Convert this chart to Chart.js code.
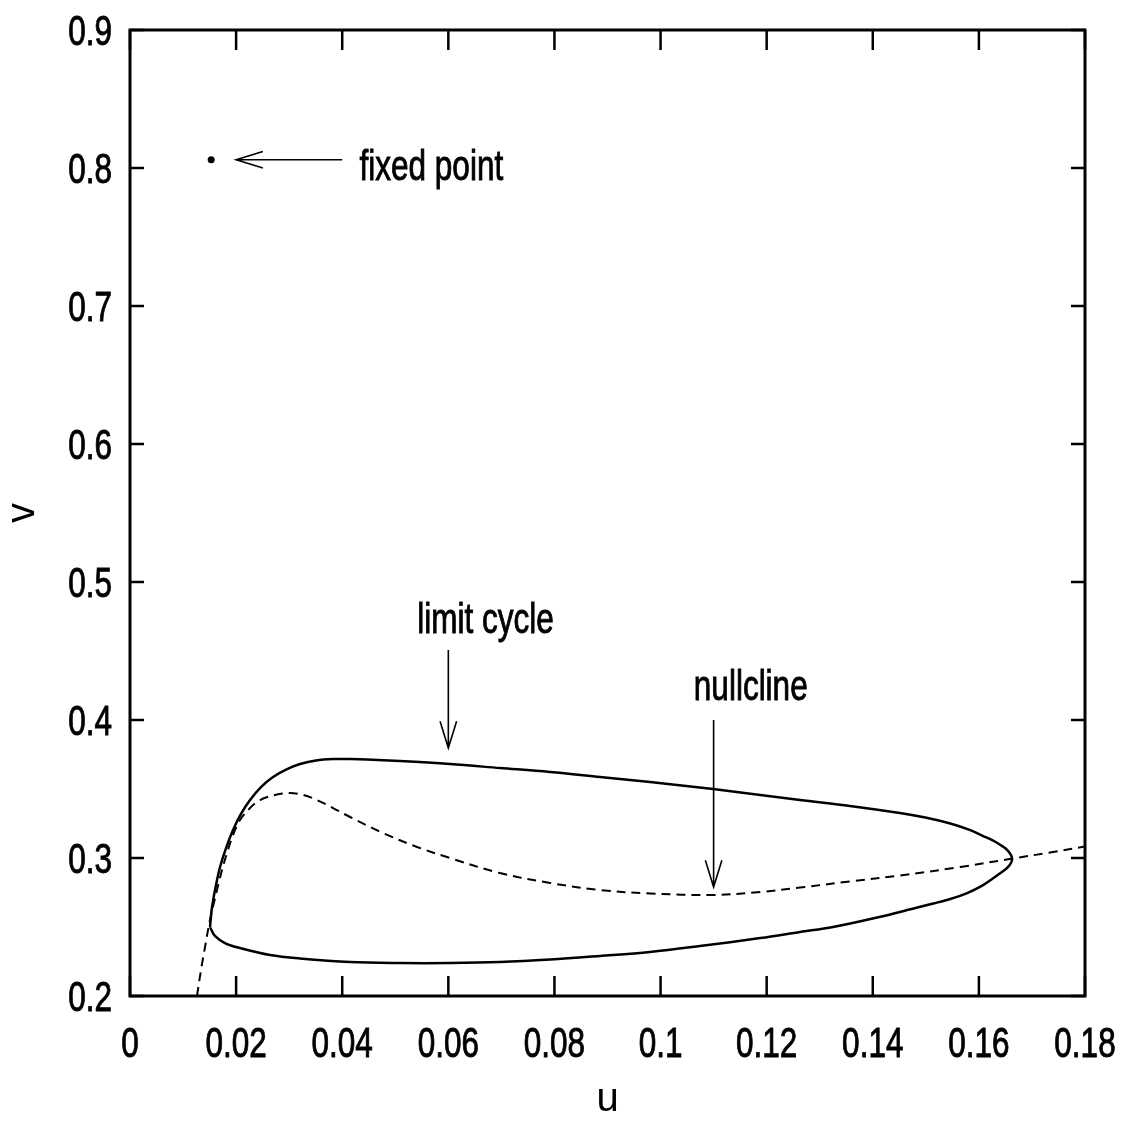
<!DOCTYPE html>
<html>
<head>
<meta charset="utf-8">
<script src="https://cdn.jsdelivr.net/npm/chart.js@4.4.0/dist/chart.umd.min.js"></script>
<style>
  html, body { margin: 0; padding: 0; background: #fff; }
  #wrap { width: 1129px; height: 1126px; position: relative; }
</style>
</head>
<body>
<div id="wrap"><canvas id="phase"></canvas></div>
<script>
// limit cycle, once round, starting and ending at the corner on the left
const cycleU = [0.01508, 0.01546, 0.01621, 0.01697, 0.01810, 0.01942, 0.02092, 0.02262, 0.02469, 0.02696,
  0.02941, 0.03205, 0.03506, 0.03827, 0.04147, 0.04467, 0.05090, 0.06032, 0.06975, 0.07917,
  0.08860, 0.09802, 0.1099, 0.1188, 0.1263, 0.1357, 0.1451, 0.1499, 0.1546, 0.1580,
  0.1608, 0.1626, 0.1640, 0.1651, 0.1658, 0.1662, 0.1662, 0.1658, 0.1651, 0.1640,
  0.1625, 0.1608, 0.1578, 0.1546, 0.1514, 0.1484, 0.1404, 0.1325, 0.1263, 0.1188,
  0.1074, 0.0980, 0.0886, 0.0792, 0.0697, 0.0603, 0.0509, 0.0415, 0.0320, 0.0264,
  0.0207, 0.0179, 0.0160, 0.01508];
const cycleV = [0.2500, 0.2645, 0.2804, 0.2935, 0.3072, 0.3203, 0.3319, 0.3420, 0.3514, 0.3587,
  0.3641, 0.3681, 0.3707, 0.3717, 0.3717, 0.3714, 0.3703, 0.3681, 0.3652, 0.3623,
  0.3587, 0.3551, 0.3500, 0.3457, 0.3420, 0.3377, 0.3326, 0.3293, 0.3250, 0.3207,
  0.3159, 0.3127, 0.3096, 0.3067, 0.3036, 0.3007, 0.2978, 0.2949, 0.2920, 0.2889,
  0.2848, 0.2804, 0.2746, 0.2703, 0.2670, 0.2641, 0.2565, 0.2500, 0.2464, 0.2420,
  0.2362, 0.2319, 0.2290, 0.2264, 0.2246, 0.2239, 0.2239, 0.2246, 0.2272, 0.2297,
  0.2348, 0.2384, 0.2435, 0.2500];

// nullcline (dashed)
const nullU = [0.01263, 0.01338, 0.01414, 0.01508, 0.0164, 0.01734, 0.01828, 0.01942, 0.02074, 0.02262,
  0.0245, 0.02733, 0.03016, 0.03261, 0.03525, 0.03827, 0.04147, 0.04769, 0.0541, 0.0603,
  0.0697, 0.0792, 0.0886, 0.0980, 0.1099, 0.1188, 0.1263, 0.1357, 0.1451, 0.1565,
  0.1663, 0.1734, 0.1800];
const nullV = [0.2000, 0.2188, 0.2355, 0.2551, 0.2768, 0.2913, 0.3036, 0.3167, 0.3275, 0.3362,
  0.3420, 0.3457, 0.3471, 0.3457, 0.3420, 0.3362, 0.3297, 0.3181, 0.3080, 0.3000,
  0.2891, 0.2819, 0.2768, 0.2743, 0.2732, 0.2754, 0.2786, 0.2830, 0.2873, 0.2935,
  0.2996, 0.3040, 0.3083];

const fixedU = [0.0153];
const fixedV = [0.806];

const xTickLabels = ['0', '0.02', '0.04', '0.06', '0.08', '0.1', '0.12', '0.14', '0.16', '0.18'];
const yTickLabels = ['0.2', '0.3', '0.4', '0.5', '0.6', '0.7', '0.8', '0.9'];

// labels in the plot (centre u, baseline v) and the arrows pointing from them
const noteText = ['fixed point', 'limit cycle', 'nullcline'];
const noteU = [0.0568, 0.0670, 0.1170];
const noteV = [0.7913, 0.4630, 0.4145];
const arrowFromU = [0.040, 0.060, 0.110];
const arrowFromV = [0.806, 0.4507, 0.400];
const arrowToU = [0.020, 0.060, 0.110];
const arrowToV = [0.806, 0.3797, 0.279];

const FONT = '"Liberation Sans", Arial, sans-serif';
const TEXT_PX = 42;
const SQUEEZE = 0.75; // narrow lettering

function toPoints(us, vs) {
  return us.map(function (u, i) { return { x: u, y: vs[i] }; });
}

function narrowText(ctx, text, x, y, align) {
  ctx.save();
  ctx.translate(x, y);
  ctx.scale(SQUEEZE, 1);
  ctx.textAlign = align;
  ctx.fillText(text, 0, 0);
  ctx.lineWidth = 0.9;
  ctx.strokeText(text, 0, 0);
  ctx.restore();
}

// white page, boxed frame with inward ticks on all sides, tick labels, arrows and notes
const framePlugin = {
  id: 'framePlugin',
  beforeDraw: function (chart) {
    const ctx = chart.ctx;
    ctx.save();
    ctx.fillStyle = '#fff';
    ctx.fillRect(0, 0, chart.width, chart.height);
    ctx.restore();
  },
  afterDatasetsDraw: function (chart) {
    const ctx = chart.ctx;
    const a = chart.chartArea;
    const xs = chart.scales.x;
    const ys = chart.scales.y;
    ctx.save();
    ctx.strokeStyle = '#000';
    ctx.fillStyle = '#000';

    ctx.lineWidth = 2.5;
    ctx.beginPath();
    xs.ticks.forEach(function (t) {
      const px = xs.getPixelForValue(t.value);
      ctx.moveTo(px, a.bottom);
      ctx.lineTo(px, a.bottom - 20);
      ctx.moveTo(px, a.top);
      ctx.lineTo(px, a.top + 20);
    });
    ys.ticks.forEach(function (t) {
      const py = ys.getPixelForValue(t.value);
      ctx.moveTo(a.left, py);
      ctx.lineTo(a.left + 14, py);
      ctx.moveTo(a.right, py);
      ctx.lineTo(a.right - 14, py);
    });
    ctx.stroke();

    ctx.lineWidth = 3;
    ctx.strokeRect(a.left, a.top, a.right - a.left, a.bottom - a.top);

    // tick labels
    ctx.font = TEXT_PX + 'px ' + FONT;
    ctx.textBaseline = 'alphabetic';
    xs.ticks.forEach(function (t, i) {
      narrowText(ctx, xTickLabels[i], xs.getPixelForValue(t.value), a.bottom + 61, 'center');
    });
    ys.ticks.forEach(function (t, i) {
      narrowText(ctx, yTickLabels[i], a.left - 18, ys.getPixelForValue(t.value) + 15, 'right');
    });

    // arrows with open heads
    ctx.lineWidth = 1.6;
    for (let i = 0; i < arrowFromU.length; i++) {
      const x0 = xs.getPixelForValue(arrowFromU[i]);
      const y0 = ys.getPixelForValue(arrowFromV[i]);
      const x1 = xs.getPixelForValue(arrowToU[i]);
      const y1 = ys.getPixelForValue(arrowToV[i]);
      const ang = Math.atan2(y1 - y0, x1 - x0);
      const len = 28, spread = 0.3;
      ctx.beginPath();
      ctx.moveTo(x0, y0);
      ctx.lineTo(x1, y1);
      ctx.moveTo(x1 - len * Math.cos(ang - spread), y1 - len * Math.sin(ang - spread));
      ctx.lineTo(x1, y1);
      ctx.lineTo(x1 - len * Math.cos(ang + spread), y1 - len * Math.sin(ang + spread));
      ctx.stroke();
    }

    for (let i = 0; i < noteText.length; i++) {
      narrowText(ctx, noteText[i], xs.getPixelForValue(noteU[i]), ys.getPixelForValue(noteV[i]), 'center');
    }
    ctx.restore();
  }
};

const chart = new Chart(document.getElementById('phase').getContext('2d'), {
  type: 'scatter',
  data: {
    datasets: [
      {
        label: 'limit cycle',
        data: toPoints(cycleU, cycleV),
        showLine: true,
        borderColor: '#000',
        borderWidth: 2.5,
        pointRadius: 0,
        tension: 0.35,
        fill: false
      },
      {
        label: 'nullcline',
        data: toPoints(nullU, nullV),
        showLine: true,
        borderColor: '#000',
        borderWidth: 2,
        borderDash: [9, 6],
        pointRadius: 0,
        tension: 0.35,
        fill: false
      },
      {
        label: 'fixed point',
        data: toPoints(fixedU, fixedV),
        showLine: false,
        pointRadius: 3.5,
        pointBackgroundColor: '#000',
        pointBorderWidth: 0
      }
    ]
  },
  options: {
    responsive: true,
    maintainAspectRatio: false,
    animation: false,
    layout: { padding: { top: 30, right: 44, left: 0, bottom: 0 } },
    plugins: {
      legend: { display: false },
      tooltip: { enabled: false },
      title: { display: false }
    },
    scales: {
      x: {
        type: 'linear',
        min: 0,
        max: 0.18,
        grid: { display: false, drawTicks: false },
        border: { display: false },
        ticks: { stepSize: 0.02, display: false },
        title: {
          display: true,
          text: 'u',
          color: '#000',
          padding: { top: 0, bottom: 2 },
          font: { family: FONT, size: 40 }
        },
        afterFit: function (scale) { scale.height = 130; }
      },
      y: {
        type: 'linear',
        min: 0.2,
        max: 0.9,
        grid: { display: false, drawTicks: false },
        border: { display: false },
        ticks: { stepSize: 0.1, display: false },
        title: {
          display: true,
          text: 'v',
          color: '#000',
          padding: { top: -1, bottom: 0 },
          font: { family: FONT, size: 40 }
        },
        afterFit: function (scale) { scale.width = 130; }
      }
    }
  },
  plugins: [framePlugin]
});
</script>
</body>
</html>
